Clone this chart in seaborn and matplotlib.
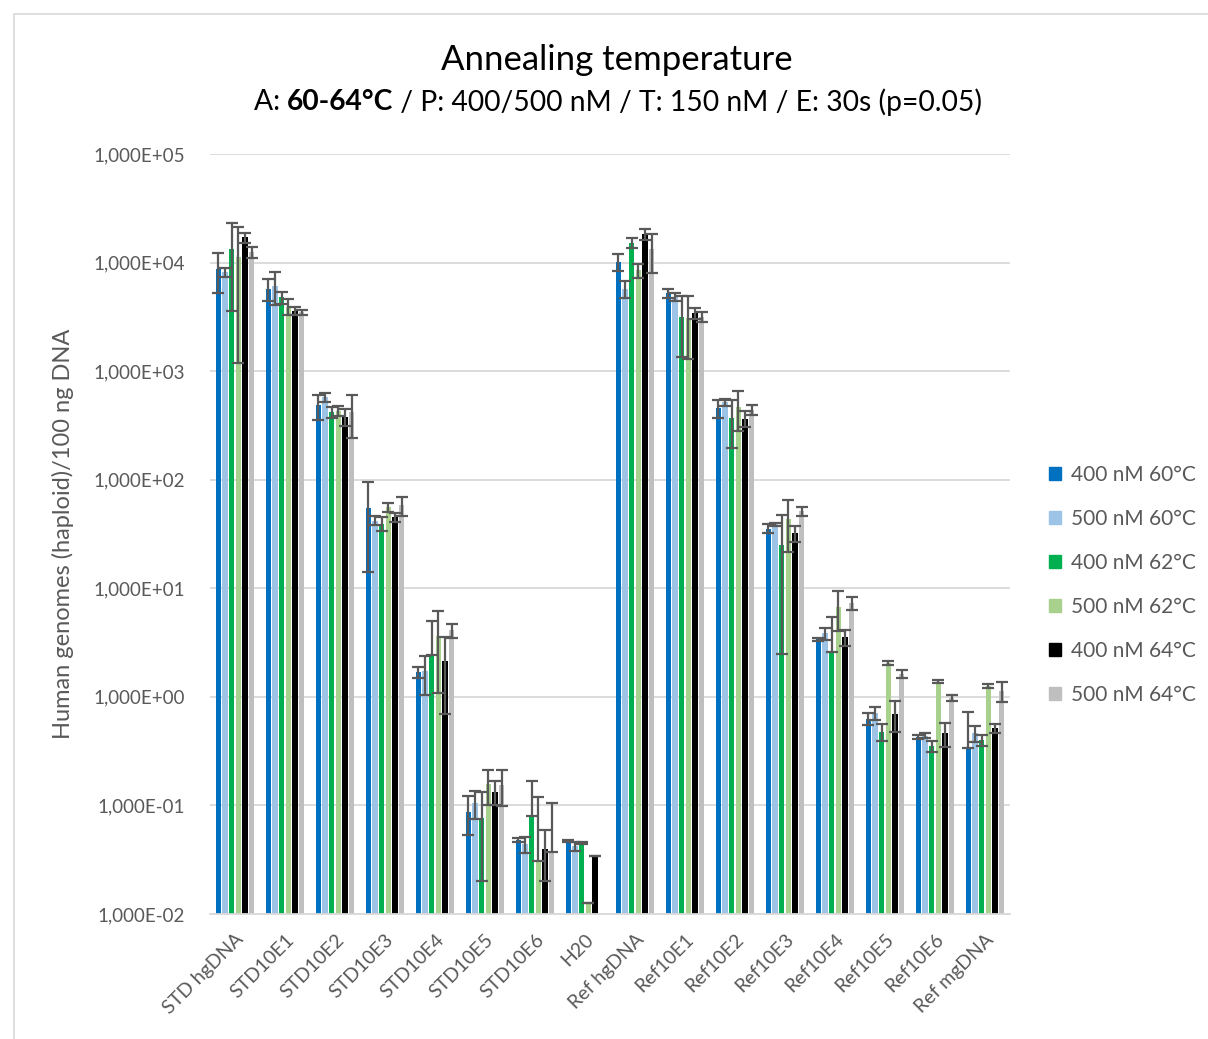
import numpy as np
import pandas as pd
import matplotlib
matplotlib.use("Agg")
import matplotlib.pyplot as plt
import seaborn as sns
from matplotlib.ticker import FixedLocator, FuncFormatter, NullLocator
from matplotlib.patches import Rectangle
from matplotlib.container import BarContainer

# categories and series
samples = ["STD hgDNA", "STD10E1", "STD10E2", "STD10E3", "STD10E4", "STD10E5", "STD10E6", "H20",
           "Ref hgDNA", "Ref10E1", "Ref10E2", "Ref10E3", "Ref10E4", "Ref10E5", "Ref10E6", "Ref mgDNA"]
series = ["400 nM 60°C", "500 nM 60°C", "400 nM 62°C", "500 nM 62°C", "400 nM 64°C", "500 nM 64°C"]
colors = ["#0070C0", "#9DC3E6", "#00B050", "#A9D18E", "#000000", "#BFBFBF"]

# means (haploid genomes / 100 ng DNA)
m_400_60 = [8730, 5720, 483, 55, 1.70, 0.0875, 0.048, 0.0475, 10190, 5200, 460, 35.5, 3.4, 0.63, 0.43, 0.34]
m_500_60 = [8200, 6130, 575, 42, 1.72, 0.105, 0.044, 0.042, 5720, 4830, 515, 38.7, 3.85, 0.71, 0.44, 0.46]
m_400_62 = [13300, 4790, 419, 39.4, 2.45, 0.076, 0.080, 0.0454, 15200, 3150, 370, 25, 2.6, 0.475, 0.35, 0.40]
m_500_62 = [11300, 3930, 434, 56, 3.64, 0.156, 0.031, 0.0127, 8500, 3100, 466, 43.5, 6.75, 2.04, 1.38, 1.27]
m_400_64 = [17100, 3600, 382, 45.3, 2.13, 0.134, 0.0397, 0.0343, 18200, 3400, 366, 32, 3.55, 0.69, 0.46, 0.515]
m_500_64 = [12500, 3480, 420, 58, 4.1, 0.154, 0.0375, np.nan, 13200, 3150, 440, 51, 7.3, 1.62, 0.98, 1.13]

# error bar sizes (same units)
e_400_60 = [3470, 1340, 125, 41, 0.2, 0.034, 0.002, 0.001, 1800, 500, 86, 3.3, 0.1, 0.08, 0.02, 0.39]
e_500_60 = [800, 2040, 50, 4, 0.67, 0.03, 0.0075, 0.004, 1000, 380, 42, 1.3, 0.5, 0.1, 0.025, 0.076]
e_400_62 = [9700, 600, 50, 5.8, 2.55, 0.056, 0.089, 0.001, 1600, 1800, 175, 22.5, 2.85, 0.085, 0.04, 0.05]
e_500_62 = [10100, 650, 45, 5.5, 2.55, 0.056, 0.088, 0.0, 1300, 1800, 185, 22, 2.7, 0.09, 0.04, 0.055]
e_400_64 = [1800, 280, 67, 4.3, 1.43, 0.034, 0.0197, 0.0, 2100, 380, 60, 5.2, 0.6, 0.22, 0.115, 0.05]
e_500_64 = [1400, 160, 177, 12, 0.6, 0.056, 0.068, np.nan, 5100, 330, 45, 4.5, 1.0, 0.14, 0.07, 0.235]

means = [m_400_60, m_500_60, m_400_62, m_500_62, m_400_64, m_500_64]
errs = [e_400_60, e_500_60, e_400_62, e_500_62, e_400_64, e_500_64]

rows = []
for s, mv in zip(series, means):
    for c, v in zip(samples, mv):
        if not np.isnan(v):
            rows.append((c, s, v))
df = pd.DataFrame(rows, columns=["Sample", "Series", "Value"])

sns.set_theme(style="white")
plt.rcParams['font.family'] = ['Lato', 'DejaVu Sans']
grey = "#595959"

fig = plt.figure(figsize=(12.08, 10.39), dpi=100)
ax = fig.add_axes([210 / 1208, 1 - 914 / 1039, 800 / 1208, (914 - 154) / 1039])
ax.set_yscale('log')
sns.barplot(data=df, x="Sample", y="Value", hue="Series", order=samples, hue_order=series,
            palette=colors, width=0.8, gap=0.2, errorbar=None, saturation=1, linewidth=0,
            ax=ax)
ax.get_legend().remove()

# error bars; Excel draws no minus bar when it would go below zero
bar_conts = [c for c in ax.containers if isinstance(c, BarContainer)]
for j, cont in enumerate(bar_conts):
    for bar in cont:
        h = bar.get_height()
        if np.isnan(h):
            continue
        xc = bar.get_x() + bar.get_width() / 2
        i = int(round(xc))
        e = errs[j][i]
        lo = e if e < h else 0
        ax.errorbar(xc, h, yerr=[[lo], [e]], fmt='none', ecolor=grey, elinewidth=1.6,
                    capsize=4.5, capthick=1.6, zorder=3)

ax.set_ylim(0.01, 1e5)
ax.set_xlim(-0.5, len(samples) - 0.5)
ax.yaxis.set_major_locator(FixedLocator([10.0 ** k for k in range(-2, 6)]))
ax.yaxis.set_minor_locator(NullLocator())
ax.yaxis.set_major_formatter(FuncFormatter(lambda v, p: "1,000E%+03d" % int(round(np.log10(v)))))
ax.yaxis.grid(True, color="#D9D9D9", linewidth=1.3)
ax.set_axisbelow(True)
for sp in ["left", "top", "right"]:
    ax.spines[sp].set_visible(False)
ax.spines["bottom"].set_color("#D9D9D9")
ax.spines["bottom"].set_linewidth(1.3)
ax.tick_params(axis='y', length=0, labelsize=13.5, labelcolor=grey, pad=18)
ax.tick_params(axis='x', length=0, labelsize=14, labelcolor=grey, pad=12)
ax.set_xlabel("")
ax.set_ylabel("Human genomes (haploid)/100 ng DNA", fontsize=17, color=grey, labelpad=14)
plt.setp(ax.get_xticklabels(), rotation=45, ha='right', rotation_mode='anchor')

# legend
handles = [Rectangle((0, 0), 1, 1, color=c) for c in colors]
fig.legend(handles, series, loc='center left', bbox_to_anchor=(1030 / 1208, 1 - 585 / 1039),
           frameon=False, fontsize=15, labelcolor=grey, handlelength=0.6, handleheight=0.6,
           handletextpad=0.45, labelspacing=1.15)

# title and subtitle
fig.text(617 / 1208, 1 - 60 / 1039, "Annealing temperature", ha='center', va='center',
         fontsize=25, color='black')
renderer = fig.canvas.get_renderer()
runs = [("A: ", "normal"), ("60-64°C", "bold"), (" / P: 400/500 nM / T: 150 nM / E: 30s (p=0.05)", "normal")]
pieces = []
total = 0
for s, w in runs:
    t = fig.text(0, 1 - 102 / 1039, s, fontsize=20.3, fontweight=w, ha='left', va='center', color='black')
    wd = t.get_window_extent(renderer).width
    pieces.append((t, wd))
    total += wd
x0 = 618 - total / 2
for t, wd in pieces:
    t.set_x(x0 / 1208)
    x0 += wd

# chart area border
fig.patches.append(Rectangle((14 / 1208, -0.05), 1.1, 1 - 14 / 1039 + 0.05, transform=fig.transFigure,
                             fill=False, edgecolor="#D9D9D9", linewidth=1.2))

fig.savefig("out.png", dpi=100)
